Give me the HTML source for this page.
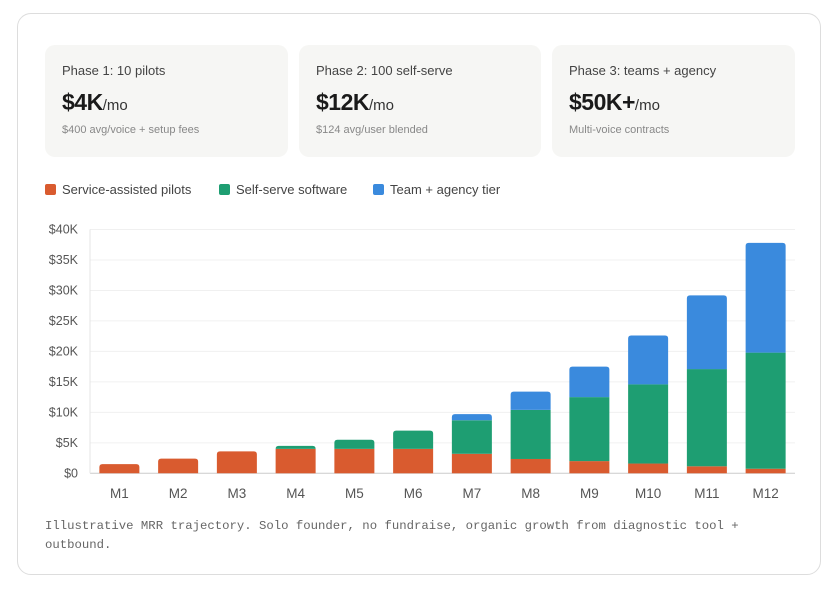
<!DOCTYPE html>
<html><head><meta charset="utf-8"><style>
body{margin:0;width:838px;height:590px;background:#fff;font-family:"Liberation Sans",sans-serif;position:relative;overflow:hidden}
.outer{position:absolute;left:17px;top:13px;width:804px;height:562px;border:1px solid #ddd;border-radius:14px;box-sizing:border-box}
.card{position:absolute;top:45px;height:112px;width:243px;background:#f6f6f4;border-radius:10px}
.card .l{position:absolute;left:17px;top:18px;font-size:13px;color:#444}
.card .v{position:absolute;left:17px;top:44px;font-size:23px;font-weight:bold;color:#1a1a1a;letter-spacing:-0.5px}
.card .v span{font-size:15px;font-weight:normal;color:#333;letter-spacing:0}
.card .s{position:absolute;left:17px;top:79px;font-size:11px;color:#888}
.leg{position:absolute;top:182px;font-size:13px;color:#444;display:flex;align-items:center}
.leg i{display:inline-block;width:11px;height:11px;border-radius:2px;margin-right:6px}
.foot{position:absolute;left:45px;top:517px;font-family:"Liberation Mono",monospace;font-size:12.3px;color:#666;line-height:19px;width:745px}
</style></head><body>
<div class="outer"></div>
<div class="card" style="left:45px"><div class="l">Phase 1: 10 pilots</div><div class="v">$4K<span>/mo</span></div><div class="s">$400 avg/voice + setup fees</div></div>
<div class="card" style="left:299px;width:242px"><div class="l">Phase 2: 100 self-serve</div><div class="v">$12K<span>/mo</span></div><div class="s">$124 avg/user blended</div></div>
<div class="card" style="left:552px"><div class="l">Phase 3: teams + agency</div><div class="v">$50K+<span>/mo</span></div><div class="s">Multi-voice contracts</div></div>
<div class="leg" style="left:45px"><i style="background:#d95b2f"></i>Service-assisted pilots</div>
<div class="leg" style="left:219px"><i style="background:#1e9e72"></i>Self-serve software</div>
<div class="leg" style="left:373px"><i style="background:#3a8add"></i>Team + agency tier</div>
<svg id="chart" width="838" height="590" style="position:absolute;left:0;top:0"></svg>
<div class="foot">Illustrative MRR trajectory. Solo founder, no fundraise, organic growth from diagnostic tool + outbound.</div>
<script>
const categories=["M1","M2","M3","M4","M5","M6","M7","M8","M9","M10","M11","M12"];
const pilots=[1.5,2.4,3.6,4,4,4,3.2,2.35,2,1.6,1.15,0.75];
const selfServe=[0,0,0,0.5,1.5,3,5.5,8.05,10.5,13,15.95,19.05];
const team=[0,0,0,0,0,0,1,3,5,8,12.1,18];
const yTicks=[0,5,10,15,20,25,30,35,40];
const yTickLabels=["$0","$5K","$10K","$15K","$20K","$25K","$30K","$35K","$40K"];
const NS="http://www.w3.org/2000/svg";
const svg=document.getElementById('chart');
const x0=90,x1=795,y0=473.3,yTop=229.5,yMax=40;
const band=(x1-x0)/categories.length,bw=40;
const yS=v=>y0-(v/yMax)*(y0-yTop);
const xS=i=>x0+i*band+(band-bw)/2;
function mk(t,a){const e=document.createElementNS(NS,t);for(const k in a)e.setAttribute(k,a[k]);svg.appendChild(e);return e;}
yTicks.forEach((t,i)=>{
 const g=mk('line',{x1:x0,x2:x1,y1:yS(t),y2:yS(t),stroke:i==0?'#ccc':'#f0f0f0','stroke-width':1});
 
 
 const tx=mk('text',{x:x0-12,y:yS(t)+4,'text-anchor':'end','font-size':12.5,fill:'#555','font-family':'Liberation Sans, sans-serif'});
 tx.textContent=yTickLabels[i];
 
 
});
const ax=mk('line',{x1:x0,x2:x0,y1:yTop,y2:y0,stroke:'#e5e5e5'});


const series=[[pilots,'#d95b2f','pilots'],[selfServe,'#1e9e72','self-serve'],[team,'#3a8add','team']];
categories.forEach((c,i)=>{
 let base=0;
 let last=-1;series.forEach((s,j)=>{if(s[0][i]>0)last=j;});
 series.forEach((s,j)=>{
  const v=s[0][i];if(v<=0)return;
  const yt=yS(base+v),yb=yS(base);
  let el;
  if(j===last){const r=3,x=xS(i),w=bw;
   el=mk('path',{d:`M${x},${yb}V${yt+r}Q${x},${yt} ${x+r},${yt}H${x+w-r}Q${x+w},${yt} ${x+w},${yt+r}V${yb}Z`,fill:s[1]});}
  else el=mk('rect',{x:xS(i),y:yt,width:bw,height:yb-yt,fill:s[1]});
  
  
  base+=v;
 });
 const t=mk('text',{x:xS(i)+bw/2,y:498,'text-anchor':'middle','font-size':13.5,fill:'#555','font-family':'Liberation Sans, sans-serif'});
 t.textContent=c;
 
 
});
</script>
</body></html>
